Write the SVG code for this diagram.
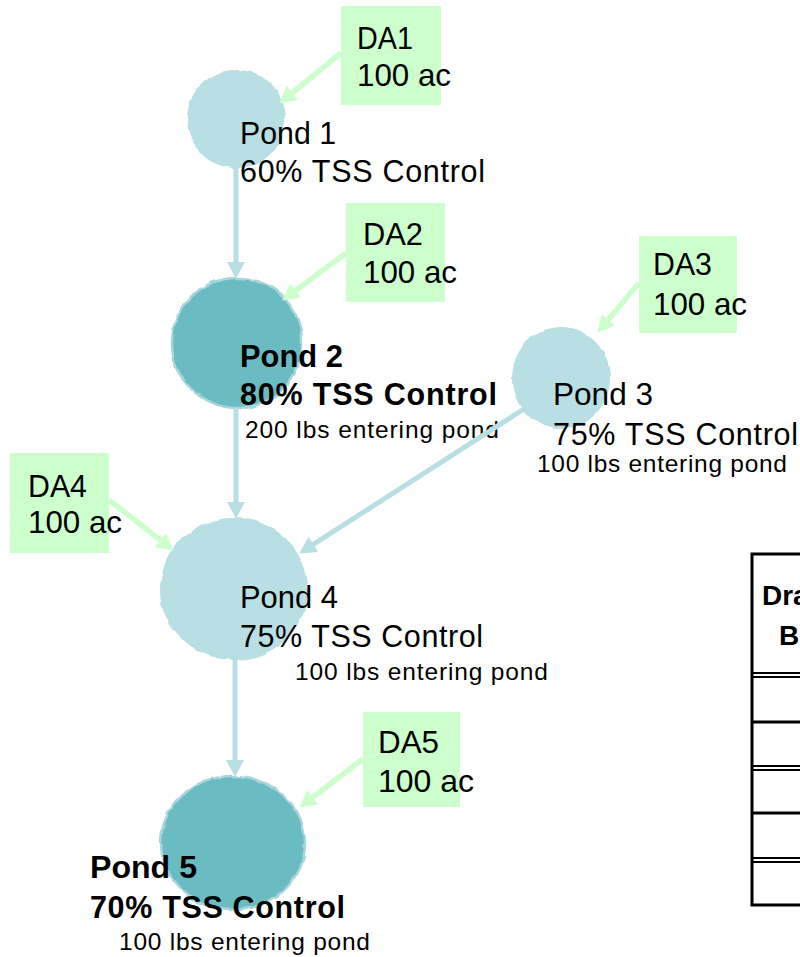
<svg xmlns="http://www.w3.org/2000/svg" width="800" height="957" viewBox="0 0 800 957">
  <style>
    text { font-family: "Liberation Sans", Arial, sans-serif; fill: #000; }
    .lbl { font-size: 30.5px; }
    .bold { font-size: 30.5px; font-weight: bold; }
    .small { font-size: 24.5px; }
    .hdr { font-size: 28px; font-weight: bold; }
    .light { fill: #B8DFE3; }
    .dark { fill: #6ABBC2; stroke: #A8D6DB; stroke-width: 2.5; }
    .box { fill: #CCFFCC; }
    .flow { stroke: #B8DFE3; stroke-width: 5; fill: none; marker-end: url(#blueHead); }
    .da { stroke: #CCFFCC; stroke-width: 5.5; fill: none; marker-end: url(#greenHead); }
    .tb { stroke: #000; fill: none; }
  </style>
  <defs>
    <filter id="wobble" x="-10%" y="-10%" width="120%" height="120%">
      <feTurbulence type="fractalNoise" baseFrequency="0.06" numOctaves="2" seed="3" result="n"/>
      <feDisplacementMap in="SourceGraphic" in2="n" scale="5" xChannelSelector="R" yChannelSelector="G"/>
    </filter>
    <marker id="blueHead" markerUnits="userSpaceOnUse" markerWidth="17" markerHeight="18" viewBox="0 0 17 18" refX="2" refY="9" orient="auto">
      <path d="M0,0 L17,9 L0,18 z" fill="#B8DFE3"/>
    </marker>
    <marker id="greenHead" markerUnits="userSpaceOnUse" markerWidth="17" markerHeight="18" viewBox="0 0 17 18" refX="2" refY="9" orient="auto">
      <path d="M0,0 L17,9 L0,18 z" fill="#CCFFCC"/>
    </marker>
  </defs>

  <rect x="0" y="0" width="800" height="957" fill="#FFFFFF"/>

  <g id="pond1">
    <ellipse class="light" cx="236" cy="119" rx="49" ry="49" filter="url(#wobble)"/>
    <text class="lbl" x="240" y="144" textLength="96" lengthAdjust="spacingAndGlyphs">Pond 1</text>
    <text class="lbl" x="240" y="182" textLength="245" lengthAdjust="spacing">60% TSS Control</text>
  </g>

  <g id="pond2">
    <ellipse class="dark" cx="237" cy="343" rx="65" ry="65" filter="url(#wobble)"/>
    <text class="bold" x="240" y="367" textLength="103" lengthAdjust="spacingAndGlyphs">Pond 2</text>
    <text class="bold" x="240" y="405" textLength="257" lengthAdjust="spacing">80% TSS Control</text>
    <text class="small" x="245" y="438" textLength="254" lengthAdjust="spacing">200 lbs entering pond</text>
  </g>

  <g id="pond3">
    <ellipse class="light" cx="561" cy="378" rx="49" ry="51" filter="url(#wobble)"/>
    <text class="lbl" x="553" y="405" textLength="100" lengthAdjust="spacingAndGlyphs">Pond 3</text>
    <text class="lbl" x="553" y="445" textLength="245" lengthAdjust="spacing">75% TSS Control</text>
    <text class="small" x="537" y="472" textLength="250" lengthAdjust="spacing">100 lbs entering pond</text>
  </g>

  <g id="pond4">
    <ellipse class="light" cx="234" cy="589" rx="74" ry="71" filter="url(#wobble)"/>
    <text class="lbl" x="240" y="608" textLength="98" lengthAdjust="spacingAndGlyphs">Pond 4</text>
    <text class="lbl" x="240" y="647" textLength="243" lengthAdjust="spacing">75% TSS Control</text>
    <text class="small" x="295" y="680" textLength="253" lengthAdjust="spacing">100 lbs entering pond</text>
  </g>

  <g id="pond5">
    <ellipse class="dark" cx="233" cy="843" rx="72" ry="67" filter="url(#wobble)"/>
    <text class="bold" x="90" y="878" textLength="107" lengthAdjust="spacingAndGlyphs">Pond 5</text>
    <text class="bold" x="90" y="918" textLength="255" lengthAdjust="spacing">70% TSS Control</text>
    <text class="small" x="119" y="950" textLength="251" lengthAdjust="spacing">100 lbs entering pond</text>
  </g>

  <g id="da1">
    <rect class="box" x="341" y="6" width="100" height="99"/>
    <text class="lbl" x="357" y="49" textLength="56" lengthAdjust="spacingAndGlyphs">DA1</text>
    <text class="lbl" x="357" y="86" textLength="94" lengthAdjust="spacingAndGlyphs">100 ac</text>
  </g>

  <g id="da2">
    <rect class="box" x="346" y="203" width="99" height="99"/>
    <text class="lbl" x="363" y="245" textLength="60" lengthAdjust="spacingAndGlyphs">DA2</text>
    <text class="lbl" x="363" y="283" textLength="94" lengthAdjust="spacingAndGlyphs">100 ac</text>
  </g>

  <g id="da3">
    <rect class="box" x="639" y="236" width="98" height="97"/>
    <text class="lbl" x="653" y="275" textLength="59" lengthAdjust="spacingAndGlyphs">DA3</text>
    <text class="lbl" x="653" y="315" textLength="94" lengthAdjust="spacingAndGlyphs">100 ac</text>
  </g>

  <g id="da4">
    <rect class="box" x="10" y="453" width="99" height="100"/>
    <text class="lbl" x="28" y="497" textLength="59" lengthAdjust="spacingAndGlyphs">DA4</text>
    <text class="lbl" x="28" y="533" textLength="94" lengthAdjust="spacingAndGlyphs">100 ac</text>
  </g>

  <g id="da5">
    <rect class="box" x="363" y="712" width="97" height="95"/>
    <text class="lbl" x="378" y="753" textLength="61" lengthAdjust="spacingAndGlyphs">DA5</text>
    <text class="lbl" x="378" y="792" textLength="96" lengthAdjust="spacingAndGlyphs">100 ac</text>
  </g>

  <g id="table">
    <rect x="752" y="554" width="70" height="351" fill="#FFFFFF" stroke="#000" stroke-width="3"/>
    <line class="tb" x1="752" y1="673" x2="800" y2="673" stroke-width="2"/>
    <line class="tb" x1="752" y1="677" x2="800" y2="677" stroke-width="2"/>
    <line class="tb" x1="752" y1="722" x2="800" y2="722" stroke-width="3"/>
    <line class="tb" x1="752" y1="766" x2="800" y2="766" stroke-width="2"/>
    <line class="tb" x1="752" y1="770" x2="800" y2="770" stroke-width="2"/>
    <line class="tb" x1="752" y1="813" x2="800" y2="813" stroke-width="3"/>
    <line class="tb" x1="752" y1="858" x2="800" y2="858" stroke-width="2"/>
    <line class="tb" x1="752" y1="862" x2="800" y2="862" stroke-width="2"/>
    <text class="hdr" x="762" y="605">Dra</text>
    <text class="hdr" x="779" y="645">B</text>
  </g>

  <g id="connectors">
    <line class="flow" x1="236" y1="168" x2="236" y2="264"/>
    <line class="flow" x1="236" y1="408" x2="236" y2="504"/>
    <line class="flow" x1="235" y1="660" x2="235" y2="762"/>
    <line class="flow" x1="527" y1="407" x2="311.8" y2="545.4"/>
    <line class="da" x1="341" y1="53" x2="290.8" y2="94.1"/>
    <line class="da" x1="346" y1="253" x2="294.2" y2="291.6"/>
    <line class="da" x1="639" y1="283" x2="607" y2="321.3"/>
    <line class="da" x1="109" y1="500" x2="162" y2="541.4"/>
    <line class="da" x1="363" y1="759" x2="311.1" y2="798.5"/>
  </g>
</svg>
